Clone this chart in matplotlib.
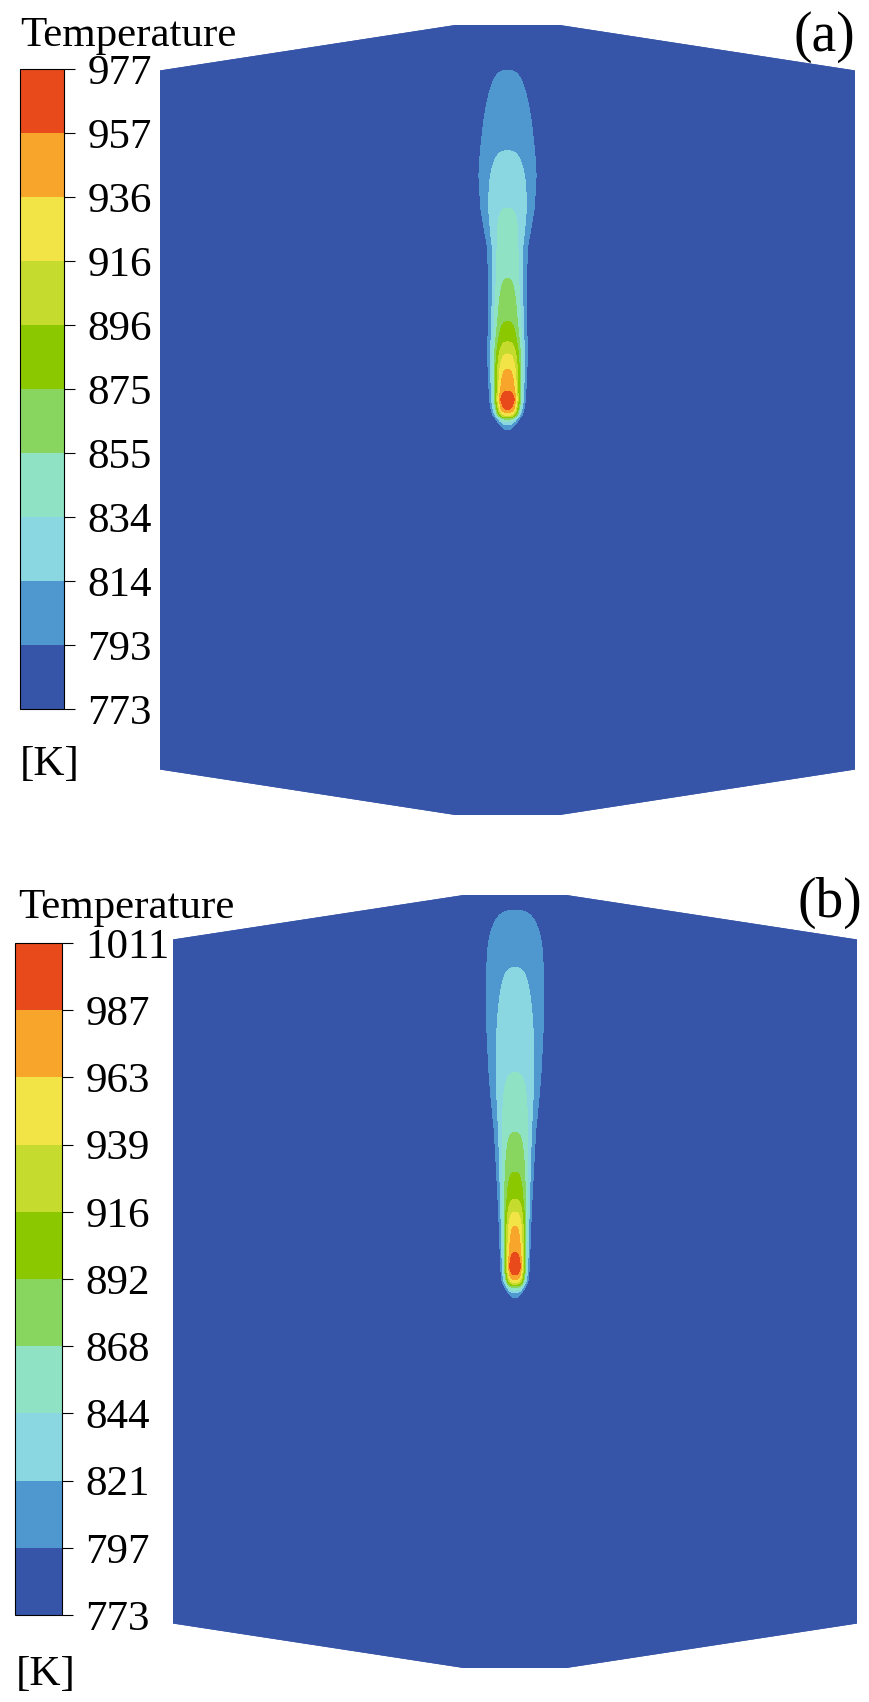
import numpy as np
import matplotlib.pyplot as plt
from matplotlib.colors import ListedColormap, BoundaryNorm
from matplotlib.patches import Polygon

plt.rcParams['font.family'] = ['Liberation Serif', 'DejaVu Serif']

W, H = 870, 1702   # output size in pixels (dpi 100)

# contour band colours, coldest first
band_colors = ['#3755a8', '#4f98cf', '#8ad7e1', '#8fe2c3', '#88d65f',
               '#8bc800', '#c5dc2f', '#f2e447', '#f8a52b', '#e84a1c']

levels_a = [773, 793, 814, 834, 855, 875, 896, 916, 936, 957, 977]
levels_b = [773, 797, 821, 844, 868, 892, 916, 939, 963, 987, 1011]

# domain outline (same geometry for both cases)
domain_x = [-100, -15, 15, 100, 100, 15, -15, -100]
domain_y = [0, -13, -13, 0, 200, 213, 213, 200]

axis_y_a = [0, 95.5, 97.3, 98.7, 99.6, 100.2, 100.7, 101.3, 102.2, 103.0, 105.9,
            108.2, 114.5, 118.9, 122.3, 128.1, 140.4, 160.6, 177.0, 200.0, 205.0, 230]
axis_T_a = [773, 773, 793, 814, 834, 855, 875, 916, 936, 957, 982,
            957, 936, 916, 896, 875, 855, 834, 814, 793, 773, 773]
# plume width scale along the axis
width_y_a = [0, 95.5, 97.3, 99.6, 102.0, 105.9, 112.5, 121.2, 128.1, 140.4,
             150.0, 160.6, 170.0, 177.0, 188.0, 200.0, 230]
width_a = [1.0, 1.0, 1.8, 2.8, 3.5, 3.9, 4.3, 4.6, 4.7, 4.8,
           5.4, 7.4, 8.5, 8.7, 8.5, 8.0, 8.0]

axis_y_b = [0, 94.0, 95.3, 96.8, 98.2, 99.7, 100.6, 102.0, 104.4, 108.5,
            116.1, 120.2, 124.0, 131.9, 143.6, 161.0, 191.8, 208.5, 212.0, 230]
axis_T_b = [773, 773, 797, 821, 868, 939, 963, 987, 1015, 987,
            963, 939, 916, 892, 868, 844, 821, 797, 773, 773]
width_y_b = [0, 94.0, 95.3, 97.0, 100.0, 104.4, 116.0, 124.0, 132.0, 143.6,
             161.0, 175.0, 191.8, 200.0, 208.5, 230]
width_b = [1.0, 1.0, 1.5, 2.3, 3.0, 3.2, 3.6, 4.1, 4.6, 5.4,
           7.4, 8.5, 9.3, 10.2, 10.5, 10.5]


def px_rect(left, top, w, h):
    return [left / W, 1 - (top + h) / H, w / W, h / H]


def plume_field(X, Y, yc, tc, ys, sig, t0=773.0, p=3):
    t_axis = np.interp(Y, yc, tc)
    s = np.interp(Y, ys, sig)
    return t0 + (t_axis - t0) * np.exp(-(np.abs(X) / s) ** p)


xg = np.linspace(-100, 100, 801)
yg = np.linspace(-13, 213, 905)
X, Y = np.meshgrid(xg, yg)

cmap = ListedColormap(band_colors)

fig = plt.figure(figsize=(W / 100, H / 100), dpi=100)


def draw_case(box, cbox, levels, yc, tc, ys, sig, tag, title_y, tag_xy, unit_xy, title_x):
    ax = fig.add_axes(px_rect(*box))
    ax.set_xlim(-100, 100)
    ax.set_ylim(-13, 213)
    ax.axis('off')

    dom = Polygon(np.column_stack([domain_x, domain_y]), closed=True,
                  facecolor=band_colors[0], edgecolor='none')
    ax.add_patch(dom)

    T = plume_field(X, Y, yc, tc, ys, sig)
    T = np.clip(T, levels[0], levels[-1])
    norm = BoundaryNorm(levels, cmap.N)
    cs = ax.contourf(X, Y, T, levels=levels, cmap=cmap, norm=norm)
    cs.set_clip_path(dom)

    cax = fig.add_axes(px_rect(*cbox))
    cb = fig.colorbar(cs, cax=cax, ticks=levels, spacing='uniform')
    cb.set_ticklabels([str(v) for v in levels])
    cb.outline.set_linewidth(0.8)
    cax.tick_params(length=8, width=0.8, pad=9, labelsize=31)

    fig.text(title_x / W, 1 - title_y / H, 'Temperature', fontsize=31,
             ha='left', va='baseline')
    fig.text(unit_xy[0] / W, 1 - unit_xy[1] / H, '[K]', fontsize=31,
             ha='left', va='baseline')
    fig.text(tag_xy[0] / W, 1 - tag_xy[1] / H, tag, fontsize=40,
             ha='right', va='baseline')


draw_case((160, 25, 695, 790), (20, 69, 44, 640), levels_a,
          axis_y_a, axis_T_a, width_y_a, width_a,
          '(a)', 46, (855, 51), (20, 775), 20)
draw_case((173, 895, 684, 773), (15, 943, 47, 672), levels_b,
          axis_y_b, axis_T_b, width_y_b, width_b,
          '(b)', 918, (862, 917), (16, 1685), 18)

fig.savefig('out.png', dpi=100)
